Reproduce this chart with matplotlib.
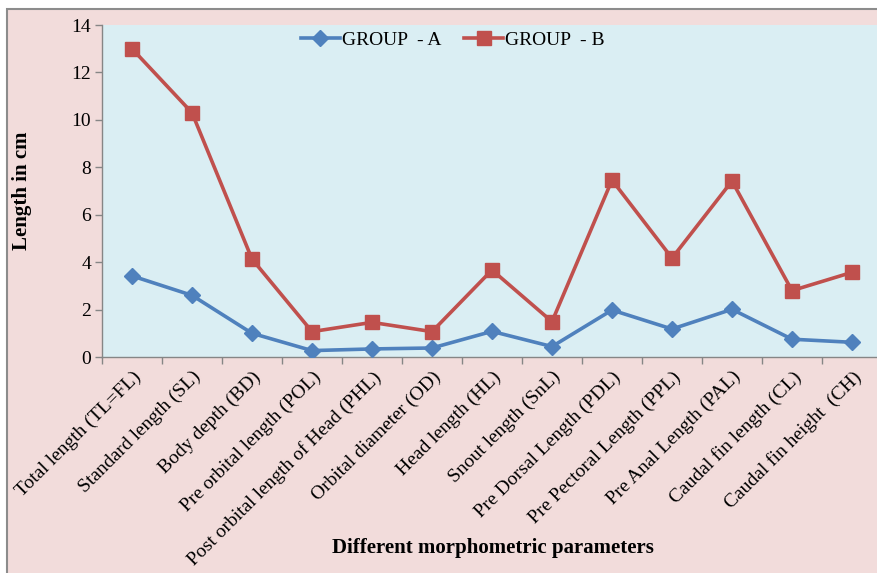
import matplotlib
matplotlib.use("Agg")
import matplotlib.pyplot as plt
from matplotlib.patches import Rectangle
from matplotlib.ticker import FixedLocator, NullFormatter

categories = [
    "Total length (TL=FL)", "Standard length (SL)", "Body depth (BD)",
    "Pre orbital length (POL)", "Post orbital length of Head (PHL)",
    "Orbital diameter (OD)", "Head length (HL)", "Snout length (SnL)",
    "Pre Dorsal Length (PDL)", "Pre Pectoral Length (PPL)",
    "Pre Anal Length (PAL)", "Caudal fin length (CL)", "Caudal fin height  (CH)",
]
group_a = [3.42, 2.6, 1.0, 0.27, 0.34, 0.38, 1.08, 0.44, 1.98, 1.18, 2.01, 0.75, 0.62]
group_b = [13.0, 10.3, 4.13, 1.07, 1.46, 1.07, 3.67, 1.49, 7.46, 4.17, 7.42, 2.8, 3.57]
y_ticks = [0, 2, 4, 6, 8, 10, 12, 14]

plt.rcParams["font.family"] = ["Liberation Serif", "DejaVu Serif"]

W, H = 878, 573
fig = plt.figure(figsize=(W / 100, H / 100), dpi=100)
fig.patch.set_facecolor("white")

# outer chart area with grey border
fig.patches.append(Rectangle((7 / W, -0.05), 1.1, (H - 9) / H + 0.05,
                             transform=fig.transFigure, facecolor="#F2DCDB",
                             edgecolor="#8C8C8C", linewidth=1.5, zorder=-5))

ax = fig.add_axes([102 / W, (H - 357) / H, 780 / W, 332 / H])
ax.set_zorder(2)
ax.set_facecolor("#DAEEF3")

x = list(range(len(categories)))
ax.plot(x, group_a, color="#4F81BD", lw=2.6, marker="D", ms=8,
        markeredgecolor="#4F81BD", label="GROUP  - A", zorder=3)
ax.plot(x, group_b, color="#C0504D", lw=2.6, marker="s", ms=10,
        markeredgecolor="#C0504D", label="GROUP  - B", zorder=3)

ax.set_xlim(-0.5, len(categories) - 0.5)
ax.set_ylim(0, 14)
ax.set_yticks(y_ticks)
ax.set_xticks(x)
ax.set_xticklabels(categories, rotation=45, ha="right", rotation_mode="anchor",
                   fontsize=14)
ax.xaxis.set_minor_locator(FixedLocator([i - 0.5 for i in range(len(categories) + 1)]))
ax.xaxis.set_minor_formatter(NullFormatter())
ax.tick_params(axis="x", which="major", length=0, pad=8)
ax.tick_params(axis="x", which="minor", length=5, color="#868686", width=1)
ax.tick_params(axis="y", length=5, color="#868686", width=1, labelsize=14, pad=3)

for s in ["top", "right"]:
    ax.spines[s].set_visible(False)
for s in ["left", "bottom"]:
    ax.spines[s].set_color("#868686")
    ax.spines[s].set_linewidth(1)

fig.text(22 / W, 1 - 191 / H, "Length in cm", rotation=90,
         ha="center", va="center", fontsize=15, fontweight="bold")
fig.text(493 / W, 1 - 548 / H, "Different morphometric parameters",
         ha="center", va="center", fontsize=15, fontweight="bold")

leg = ax.legend(loc="upper left", bbox_to_anchor=((291 - 102) / 780, 1.01),
                ncol=2, frameon=False, fontsize=14, handlelength=2.0,
                handletextpad=0.1, columnspacing=1.2, borderaxespad=0.1)

fig.savefig("out.png", dpi=100, facecolor=fig.get_facecolor())
